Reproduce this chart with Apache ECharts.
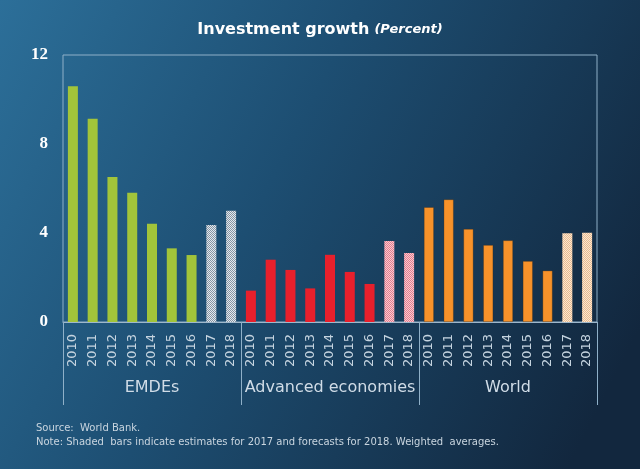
<!DOCTYPE html>
<html>
<head>
<meta charset="utf-8">
<script src="https://cdn.jsdelivr.net/npm/echarts@6/dist/echarts.min.js"></script>
<style>
html,body{margin:0;padding:0;background:#1a3f5e;}
#c{width:640px;height:469px;}
</style>
</head>
<body>
<div id="c"></div>
<script>
// ---- data ----
var groups = ['EMDEs', 'Advanced economies', 'World'];
var years = ['2010','2011','2012','2013','2014','2015','2016','2017','2018'];
var emdes    = [10.6, 9.14, 6.52, 5.81, 4.42, 3.31, 3.01, 4.36, 5.0];
var advanced = [1.41, 2.80, 2.34, 1.51, 3.02, 2.25, 1.71, 3.64, 3.10];
var world    = [5.16, 5.51, 4.18, 3.46, 3.67, 2.74, 2.31, 3.99, 4.01];
var shadedYears = ['2017', '2018'];
var yTicks = [0, 4, 8, 12];

// ---- styles ----
var solidColors = ['#a2c43a', '#e8202c', '#f7922a'];
var shadeColors = [['#e4e9ee', '#8595a4'], ['#fbc8d0', '#e27f8f'], ['#fde6cf', '#e6bb92']];

function makePattern(c1, c2) {
  var cv = document.createElement('canvas');
  cv.width = 2; cv.height = 2;
  var ctx = cv.getContext('2d');
  ctx.fillStyle = c1; ctx.fillRect(0, 0, 2, 2);
  ctx.fillStyle = c2; ctx.fillRect(0, 0, 1, 1); ctx.fillRect(1, 1, 1, 1);
  return { image: cv, repeat: 'repeat' };
}

var seriesSets = [emdes, advanced, world];
var categories = [];
var barData = [];
seriesSets.forEach(function (arr, gi) {
  years.forEach(function (y, i) {
    categories.push(y);
    var shaded = shadedYears.indexOf(y) >= 0;
    barData.push({
      value: arr[i],
      itemStyle: {
        color: shaded ? makePattern(shadeColors[gi][0], shadeColors[gi][1]) : solidColors[gi],
        borderColor: gi === 2 && !shaded ? 'rgba(60,40,20,0.5)' : 'transparent',
        borderWidth: gi === 2 && !shaded ? 0.6 : 0
      }
    });
  });
});

var chart = echarts.init(document.getElementById('c'), null, { renderer: 'canvas' });
chart.setOption({
  animation: false,
  backgroundColor: {
    type: 'linear', x: 0, y: 0, x2: 1, y2: 0.7,
    colorStops: [
      { offset: 0, color: '#2c6f99' },
      { offset: 0.45, color: '#1d4e72' },
      { offset: 1, color: '#12273e' }
    ]
  },
  title: [{
    text: '{a|Investment growth} {b|(Percent)}',
    left: 'center', top: 16,
    textStyle: {
      rich: {
        a: { fontFamily: 'DejaVu Sans', fontWeight: 'bold', fontSize: 16, color: '#ffffff' },
        b: { fontFamily: 'DejaVu Sans', fontWeight: 'bold', fontStyle: 'italic', fontSize: 13, color: '#ffffff' }
      }
    }
  }, {
    text: 'Source:  World Bank.\nNote: Shaded  bars indicate estimates for 2017 and forecasts for 2018. Weighted  averages.',
    left: 31, top: 416,
    textStyle: { fontFamily: 'DejaVu Sans', fontWeight: 'normal', fontSize: 10, color: '#c9d5df', lineHeight: 14 }
  }],
  grid: {
    left: 63, right: 43, top: 55, bottom: 147,
    show: true, borderColor: '#8fb0c8', borderWidth: 1, backgroundColor: 'transparent'
  },
  xAxis: [{
    type: 'category',
    data: categories,
    axisLine: { lineStyle: { color: '#9fb8cc', width: 1 } },
    axisTick: { show: false },
    axisLabel: {
      interval: 0, rotate: 90, margin: 12,
      fontFamily: 'DejaVu Sans', fontSize: 13, color: '#c4d3df'
    }
  }, {
    type: 'category',
    data: groups,
    position: 'bottom',
    axisLine: { show: false },
    axisTick: { show: true, length: 83, interval: 0, lineStyle: { color: '#8fb0c8', width: 1 } },
    axisLabel: { interval: 0, margin: 58, fontFamily: 'DejaVu Sans', fontSize: 16, color: '#d0dce7' }
  }],
  yAxis: {
    type: 'value', min: 0, max: 12, interval: 4,
    axisLine: { show: false }, axisTick: { show: false }, splitLine: { show: false },
    axisLabel: {
      margin: 15,
      fontFamily: 'Liberation Serif', fontWeight: 'bold', fontSize: 17, color: '#ffffff',
      formatter: function (v) { return yTicks.indexOf(v) >= 0 ? String(v) : ''; }
    }
  },
  series: [{
    type: 'bar',
    xAxisIndex: 0,
    barWidth: 10,
    data: barData
  }]
});
</script>
</body>
</html>
